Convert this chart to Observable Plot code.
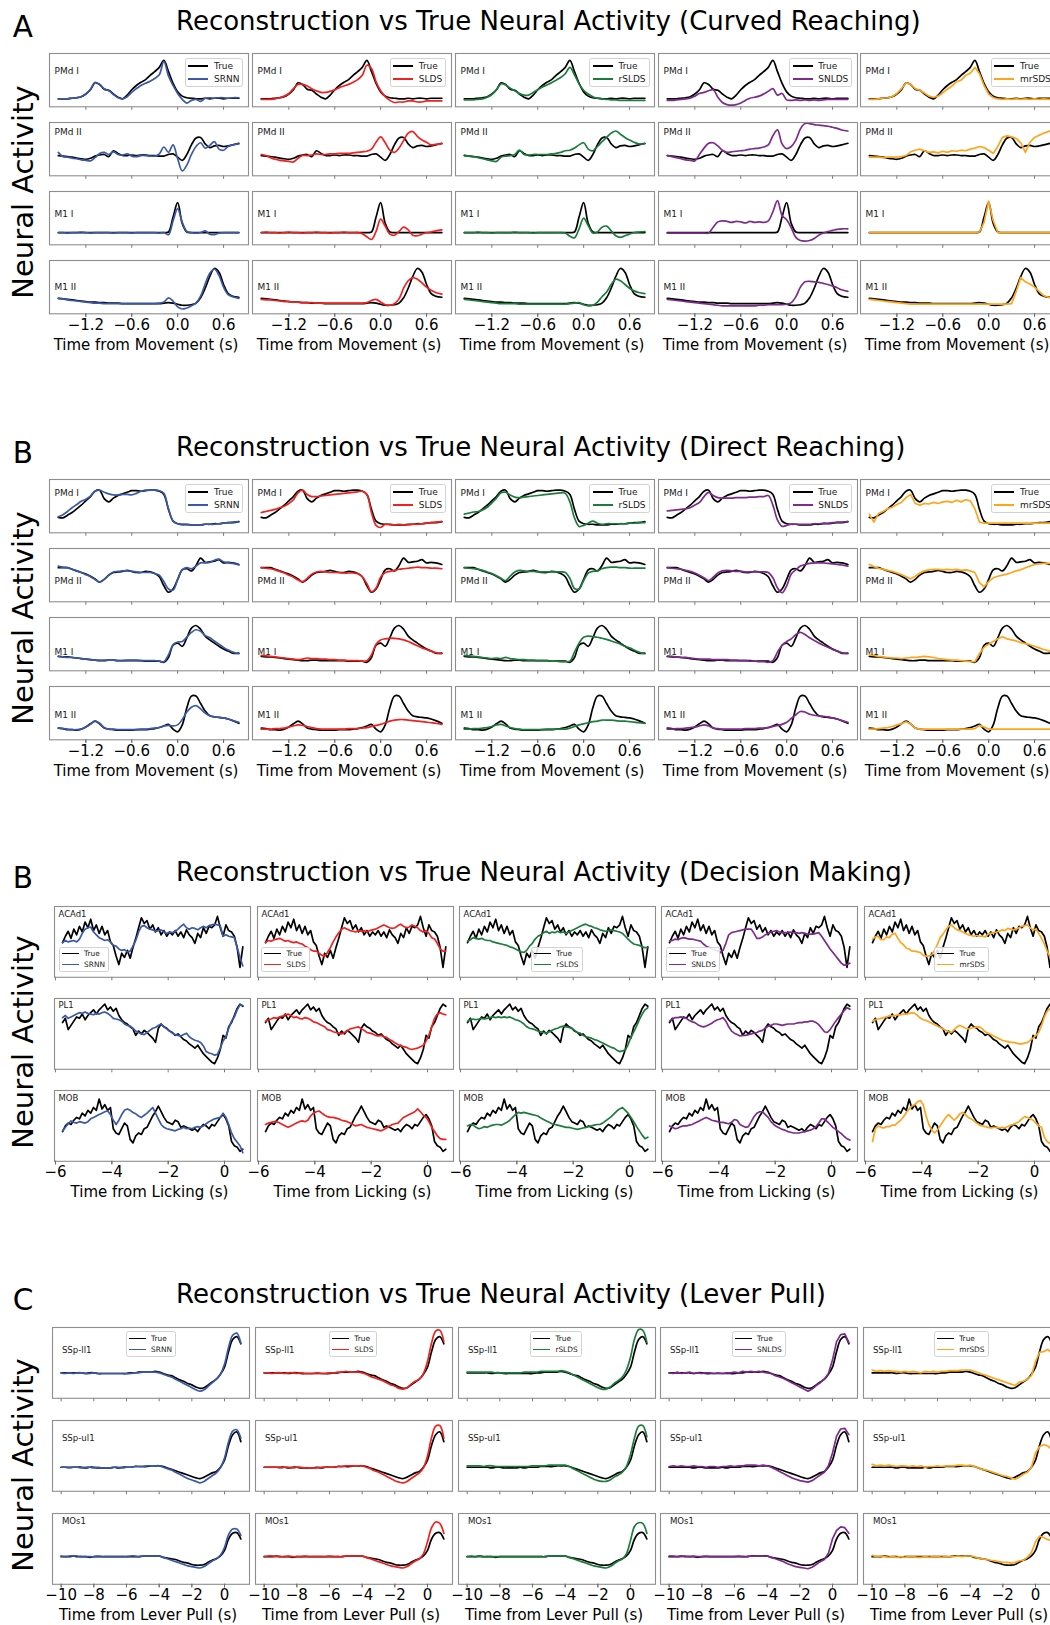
<!DOCTYPE html>
<html>
<head>
<meta charset="utf-8">
<script src="https://cdn.jsdelivr.net/npm/d3@7"></script>
<script src="https://cdn.jsdelivr.net/npm/@observablehq/plot@0.6"></script>
<style>
  html, body { margin: 0; padding: 0; background: #fff; overflow: hidden; }
  #fig { position: relative; width: 1050px; height: 1625px; overflow: hidden; font-family: "DejaVu Sans", sans-serif; background: #fff; }
  .legend { position: absolute; width: max-content; border: 1px solid #d2d2d2; border-radius: 2.5px; background: rgba(255,255,255,0.85); font-family: "DejaVu Sans", sans-serif; color: #1a1a1a; box-sizing: content-box; }
  .legend .row { display: flex; align-items: center; }
  .legend .sw { display: inline-block; height: 0; }
</style>
</head>
<body>
<div id="fig"></div>
<script>
// ---------------------------------------------------------------------------
// Models and colours
const models = ["SRNN", "SLDS", "rSLDS", "SNLDS", "mrSDS"];
const modelColors = ["#3b59a9", "#f0211f", "#1b7d3b", "#7e2b8d", "#ffa51c"];

// ---------------------------------------------------------------------------
// Time axes (seconds)
const reachTime = [-1.56,-1.50,-1.44,-1.38,-1.32,-1.26,-1.20,-1.14,-1.08,-1.02,-0.96,-0.90,-0.84,-0.78,-0.72,-0.66,-0.60,-0.54,-0.48,-0.42,-0.36,-0.30,-0.24,-0.18,-0.12,-0.06,0.00,0.06,0.12,0.18,0.24,0.30,0.36,0.42,0.48,0.54,0.60,0.66,0.72,0.80];
const lickTime = [-5.75,-5.65,-5.55,-5.45,-5.35,-5.25,-5.15,-5.05,-4.95,-4.85,-4.75,-4.65,-4.55,-4.45,-4.35,-4.25,-4.15,-4.05,-3.95,-3.85,-3.75,-3.65,-3.55,-3.45,-3.35,-3.25,-3.15,-3.05,-2.95,-2.85,-2.75,-2.65,-2.55,-2.45,-2.35,-2.25,-2.15,-2.05,-1.95,-1.85,-1.75,-1.65,-1.55,-1.45,-1.35,-1.25,-1.15,-1.05,-0.95,-0.85,-0.75,-0.65,-0.55,-0.45,-0.35,-0.25,-0.15,-0.05,0.05,0.15,0.25,0.35,0.45,0.55,0.65];
const leverTime = [-10,-9.75,-9.5,-9.25,-9,-8.75,-8.5,-8.25,-8,-7.75,-7.5,-7.25,-7,-6.75,-6.5,-6.25,-6,-5.75,-5.5,-5.25,-5,-4.75,-4.5,-4.25,-4,-3.75,-3.5,-3.25,-3,-2.75,-2.5,-2.25,-2,-1.75,-1.5,-1.25,-1,-0.75,-0.5,-0.25,0,0.25,0.5,0.75,1];

// Tick values and their labels
const reachTicks = [-1.2, -0.6, 0, 0.6];
const reachTickLabels = ["\u22121.2", "\u22120.6", "0.0", "0.6"];
const lickTicks = [-6, -4, -2, 0];
const lickTickLabels = ["\u22126", "\u22124", "\u22122", "0"];
const leverTicks = [-10, -8, -6, -4, -2, 0];
const leverTickLabels = ["\u221210", "\u22128", "\u22126", "\u22124", "\u22122", "0"];

// ---------------------------------------------------------------------------
// Curved reaching (normalised activity, one row per region)
const curvedRegions = ["PMd I", "PMd II", "M1 I", "M1 II"];
const curvedTrue = [
  [15,15,15,16,17,19,24,32,45,42, 33,31,24,18,15,22,32,40,46,51, 59,66,74,87,66,44,28,20,17,16, 15,15,16,15,16,16,15,16,16,16],
  [38,37,36,35,33,32,31,33,37,39, 40,36,47,42,38,38,39,38,39,39, 38,38,37,37,40,41,35,29,40,58, 71,72,60,53,56,57,55,56,58,61],
  [23,23,23,23,23,23,23,23,23,23, 23,23,23,23,23,23,23,23,23,23, 23,23,23,23,24,52,79,40,24,23, 23,23,23,23,23,23,23,23,23,23],
  [29,28,27,26,25,24,23,22,22,21, 21,20,20,20,19,19,19,19,19,19, 19,19,19,20,21,20,18,16,16,17, 20,30,48,70,85,78,55,38,33,31]
];
const curvedSRNN = [
  [15,15,15,16,17,19,24,33,46,42, 34,30,23,17,15,19,27,34,40,44, 48,53,60,85,58,40,25,14,7,12, 14,10,16,17,16,17,17,16,17,17],
  [44,36,35,33,32,30,29,28,34,42, 44,40,45,40,39,41,37,36,38,38, 37,37,41,54,44,58,32,9,20,40, 55,62,52,57,64,50,48,55,58,60],
  [23,23,22,23,23,24,23,22,23,23, 23,23,22,23,23,23,22,23,23,23, 23,23,22,23,19,45,68,42,25,23, 22,23,26,20,19,22,23,23,23,23],
  [29,28,26,25,24,23,22,21,20,20, 19,19,19,19,19,19,19,19,19,19, 19,19,20,22,30,24,13,9,11,15, 20,33,56,76,84,72,50,36,32,29]
];
const curvedSLDS = [
  [14,14,14,15,17,20,25,34,42,42, 39,34,30,27,27,29,32,36,39,42, 46,51,59,78,72,47,30,19,12,8, 9,9,11,11,9,9,11,11,11,11],
  [40,38,34,31,29,28,27,26,33,38, 38,39,41,40,40,41,41,42,42,42, 43,44,45,46,50,63,73,62,48,44, 52,66,80,83,74,67,63,58,59,60],
  [23,24,23,23,22,23,24,23,23,22, 23,23,24,23,23,22,23,23,24,23, 23,23,21,15,10,25,48,35,20,18, 25,33,28,18,17,20,23,24,26,28],
  [27,26,26,25,24,23,23,22,22,21, 21,21,20,20,20,20,20,20,20,20, 20,20,20,21,25,27,22,17,16,19, 28,48,62,68,65,58,50,44,40,37]
];
const curvedRSLDS = [
  [13,13,13,14,15,18,23,32,43,41, 35,30,25,22,22,27,32,37,41,45, 50,55,62,74,60,43,31,24,19,16, 15,14,13,13,12,12,12,12,12,12],
  [39,37,36,34,32,30,28,27,35,37, 38,40,48,40,39,40,40,40,40,41, 42,44,47,48,52,58,62,50,47,55, 64,72,80,84,78,72,67,63,60,60],
  [23,23,23,24,23,23,22,23,23,23, 23,24,23,23,23,22,23,23,23,23, 23,23,22,16,13,30,50,36,22,24, 33,35,26,17,14,17,20,23,24,25],
  [27,26,25,24,23,22,21,20,19,19, 19,19,18,18,18,18,18,18,18,18, 18,18,18,19,20,21,17,15,16,22, 32,41,55,65,62,55,48,43,40,38]
];
const curvedSNLDS = [
  [12,12,13,14,15,16,20,25,27,30, 32,18,8,4,3,4,7,12,16,18, 20,24,29,34,22,25,13,12,13,12, 13,12,13,12,13,14,14,14,14,14],
  [38,36,34,32,30,29,28,40,52,61, 62,56,48,44,45,46,47,48,50,51, 52,54,58,75,86,60,51,55,67,88, 98,98,96,95,94,93,91,89,86,84],
  [22,22,22,22,22,22,22,22,22,22, 33,43,45,44,42,44,43,41,44,42, 43,42,45,62,83,55,47,32,14,8, 7,8,12,18,22,25,27,29,30,30],
  [27,26,25,24,23,22,21,20,19,18, 17,16,15,15,15,15,15,15,15,15, 16,16,17,17,17,17,18,21,32,50, 60,61,60,59,57,55,52,49,45,42]
];
const curvedMrSDS = [
  [14,14,15,16,17,19,25,34,45,42, 34,31,26,20,18,20,26,33,39,47, 50,59,63,74,62,40,24,17,15,14, 15,14,15,14,15,14,15,14,15,14],
  [35,35,35,34,35,35,35,36,38,45, 48,50,47,44,45,43,46,44,47,46, 48,47,50,52,55,53,48,42,55,72, 75,73,70,62,44,63,72,76,80,84],
  [23,23,23,23,23,23,23,23,23,23, 23,23,23,23,23,23,23,23,23,23, 23,23,23,23,24,42,82,45,23,23, 23,23,23,23,23,23,23,23,23,23],
  [27,26,25,24,23,22,21,20,19,18, 18,18,18,18,18,18,18,18,18,18, 18,18,18,18,18,18,18,18,18,18, 18,19,42,68,60,56,50,42,34,30]
];

// ---------------------------------------------------------------------------
// Direct reaching
const directRegions = ["PMd I", "PMd II", "M1 I", "M1 II"];
const directTrue = [
  [29,28,33,38,45,52,60,68,78,80, 64,58,65,70,73,76,79,79,78,79, 80,80,78,72,44,22,17,16,16,15, 15,15,16,16,17,17,18,19,19,21],
  [64,64,64,61,58,55,52,48,43,37, 42,50,55,56,57,59,57,55,55,57, 56,53,47,30,18,24,42,60,62,58, 68,82,74,75,76,79,73,74,73,70],
  [27,26,26,25,24,23,22,21,20,19, 19,20,20,19,19,19,19,19,19,18, 18,18,18,16,25,48,52,46,62,80, 85,78,65,58,52,46,41,37,33,33],
  [22,21,19,19,18,20,24,30,35,30, 22,20,19,18,18,18,18,19,19,19, 20,21,23,26,29,20,15,28,60,82, 82,68,54,45,43,42,41,39,36,31]
];
const directSRNN = [
  [30,34,40,47,53,59,63,69,78,80, 76,73,71,71,72,72,71,74,78,80, 80,80,79,74,45,22,17,15,15,15, 15,15,16,16,16,17,18,19,20,21],
  [67,65,64,61,58,55,51,47,42,37, 42,50,56,57,58,58,57,56,55,55, 55,53,50,38,24,22,42,60,64,62, 67,73,73,74,78,80,75,73,72,69],
  [27,26,25,25,24,23,22,21,20,20, 20,20,20,19,19,20,20,20,19,19, 19,19,18,17,30,49,54,55,63,72, 77,74,66,62,56,50,44,39,35,32],
  [22,21,20,19,19,20,24,29,35,31, 23,20,20,19,19,19,19,19,20,20, 21,22,23,26,27,26,28,38,52,61, 64,58,50,45,43,42,41,39,36,33]
];
const directSLDS = [
  [38,40,42,44,47,50,55,62,75,80, 72,68,68,69,70,71,72,73,74,75, 76,77,78,72,38,14,10,16,15,15, 16,15,15,16,16,17,18,19,20,21],
  [64,63,62,60,57,54,50,46,41,38, 44,52,56,57,56,55,55,55,54,54, 54,53,47,34,19,26,46,55,57,59, 61,62,63,64,65,64,64,63,63,62],
  [29,28,27,26,25,24,23,22,21,22, 24,23,23,22,22,21,21,20,20,19, 19,19,18,19,30,50,58,60,61,61, 60,58,55,51,47,43,40,37,34,32],
  [20,20,20,21,21,22,24,26,28,27, 25,23,21,20,20,20,20,20,20,21, 21,21,22,23,25,27,29,32,35,37, 38,38,37,36,35,34,33,32,31,29]
];
const directRSLDS = [
  [35,37,39,40,43,48,56,65,75,76, 71,67,66,67,68,69,70,71,72,73, 74,75,74,58,28,12,14,18,22,18, 16,17,17,17,17,17,18,18,19,19],
  [64,63,62,61,59,56,53,49,44,40, 48,56,59,58,57,57,56,56,56,56, 56,56,55,44,25,24,40,54,57,58, 62,64,65,65,64,64,63,63,63,63],
  [29,28,27,26,25,24,23,24,23,25, 23,22,21,21,20,20,19,19,19,18, 18,17,17,18,35,52,63,65,64,63, 61,59,56,53,50,46,43,39,35,32],
  [20,20,21,21,22,23,25,28,29,26, 23,21,20,19,19,19,19,19,20,20, 20,20,20,22,25,28,30,32,34,35, 37,37,37,36,35,35,34,33,32,31]
];
const directSNLDS = [
  [41,42,43,44,45,47,52,57,68,76, 70,66,65,65,65,66,66,66,67,67, 68,68,70,52,24,12,14,16,16,16, 16,16,17,17,18,18,19,20,20,21],
  [64,63,62,61,59,57,54,50,45,40, 46,54,58,59,58,57,57,56,56,56, 56,56,55,45,26,17,30,52,60,67, 70,72,73,73,73,72,71,70,69,67],
  [27,27,26,25,25,24,23,22,22,22, 21,21,21,21,20,20,19,19,18,18, 17,17,16,19,35,48,55,60,68,72, 68,62,57,52,48,44,40,37,34,32],
  [20,20,21,21,22,23,24,26,28,26, 22,21,20,20,20,20,20,21,21,21, 22,22,23,25,27,29,33,40,47,53, 52,48,46,45,44,43,41,39,36,33]
];
const directMrSDS = [
  [35,20,36,40,45,48,53,57,66,72, 55,52,55,54,57,55,58,59,57,61, 58,62,60,45,20,18,18,18,18,18, 18,18,18,18,18,18,18,18,18,18],
  [70,66,63,61,59,57,54,51,47,43, 48,54,58,60,61,61,60,61,60,61, 59,60,58,55,36,28,38,45,48,50, 52,55,58,60,64,67,70,71,72,72],
  [30,29,27,26,25,24,24,23,24,25, 25,26,27,26,25,23,22,21,20,20, 19,18,17,17,32,44,50,55,60,64, 60,58,56,53,51,49,46,43,40,37],
  [20,20,21,22,23,25,28,30,34,30, 22,20,20,20,20,20,20,20,20,20, 20,20,20,21,27,24,20,20,20,20, 20,20,20,20,20,20,20,20,20,20]
];

// ---------------------------------------------------------------------------
// Decision making (time from licking)
const lickRegions = ["ACAd1", "PL1", "MOB"];
const lickTrue = [
  [49,58,65,55,68,60,72,64,78,70, 82,66,74,62,72,60,66,50,45,30, 18,34,28,38,27,42,55,70,84,76, 80,68,74,64,70,60,66,58,64,60, 66,58,64,56,67,60,56,48,62,56, 70,62,72,70,74,86,70,58,74,66, 64,58,42,14,43],
  [66,72,56,62,68,74,72,78,70,76, 80,84,78,84,88,92,84,88,82,86, 76,70,66,64,60,57,48,54,50,55, 52,48,44,38,58,64,60,58,54,52, 48,50,46,42,40,36,33,30,34,28, 22,18,14,10,8,16,28,48,44,60, 66,76,86,92,89],
  [42,50,54,52,58,62,60,68,64,72, 68,76,72,88,74,80,72,76,46,40, 38,46,54,50,31,26,36,40,38,46, 48,56,64,70,78,70,62,56,54,52, 58,56,48,50,48,46,44,46,42,48, 52,50,46,52,50,56,62,66,60,50, 28,22,20,14,17]
];
const lickSRNN = [
  [49,52,50,51,52,50,54,62,68,70, 71,64,60,56,54,52,53,50,45,44, 40,38,39,36,37,44,52,64,72,73, 70,68,67,65,66,67,64,62,64,63, 65,68,72,75,70,68,70,69,67,70, 72,70,73,74,75,74,73,58,60,58, 57,56,42,28,16],
  [73,76,72,74,76,78,80,79,81,79, 78,77,79,78,80,81,79,76,72,71, 70,68,64,62,61,58,54,52,50,49, 52,55,58,59,62,64,60,57,54,51, 49,48,47,49,51,46,43,41,40,38, 33,25,23,22,20,21,30,40,46,58, 68,74,84,91,90],
  [43,48,53,57,55,54,56,55,54,56, 60,62,64,66,68,70,71,66,58,52, 58,66,72,74,72,69,67,64,62,65, 68,72,76,68,60,52,48,46,45,44, 43,45,46,48,46,47,46,48,49,48, 50,53,56,58,60,61,62,68,62,52, 40,32,27,22,12]
];
const lickSLDS = [
  [49,52,51,53,54,55,53,51,52,50, 49,50,48,47,44,42,39,37,37,34, 31,30,35,42,50,57,63,68,70,68, 66,65,64,66,65,66,64,66,67,68, 70,72,74,72,70,69,70,73,75,72, 70,71,74,72,70,66,64,66,62,56, 54,48,40,37,37],
  [68,70,71,73,72,74,75,77,78,76, 73,74,72,71,73,72,70,67,66,64, 62,60,56,55,53,52,51,50,52,54, 57,58,59,60,57,55,52,51,50,48, 47,48,46,45,42,40,37,35,33,32, 31,29,28,29,30,32,34,40,48,60, 72,78,80,78,77],
  [52,54,55,56,56,54,52,50,48,50, 52,54,56,57,56,58,64,68,70,71, 68,65,63,62,62,61,60,58,57,56, 54,52,50,51,52,50,48,47,46,45, 44,43,45,47,50,52,53,54,58,62, 64,66,68,70,74,70,65,62,56,48, 42,36,32,31,31]
];
const lickRSLDS = [
  [51,53,56,55,54,55,53,52,52,50, 49,48,47,46,45,43,42,40,38,36, 35,38,44,48,54,58,60,63,65,62, 64,63,65,63,64,62,64,66,68,70, 72,74,75,73,72,70,69,67,66,65, 66,67,66,65,64,62,58,54,50,47, 46,45,43,42,42],
  [68,70,71,70,71,72,71,72,73,74, 73,74,73,74,73,74,72,70,69,67, 64,60,58,57,56,54,53,52,51,53, 55,57,58,60,61,60,59,58,55,52, 51,48,46,45,44,42,41,39,37,35, 33,31,30,27,25,26,27,35,45,53, 61,70,78,84,87],
  [50,52,51,48,46,47,49,48,50,51, 52,52,51,53,55,58,62,66,69,68, 69,68,67,66,65,64,61,59,57,55, 53,52,51,50,49,48,48,47,46,45, 46,47,48,49,50,51,52,52,54,57, 60,63,67,71,74,76,72,68,62,56, 49,43,37,32,34]
];
const lickSNLDS = [
  [51,52,54,53,55,56,55,54,54,53, 52,51,47,44,42,40,39,37,35,38, 48,60,63,64,65,66,67,68,68,68, 62,55,55,57,60,62,64,65,66,64, 63,63,63,64,63,63,62,63,62,61, 61,61,62,63,58,52,46,40,35,30, 25,20,17,18,20],
  [68,71,73,73,74,73,72,69,67,66, 63,61,60,61,63,65,68,70,71,73, 68,60,54,51,49,47,48,48,49,50, 51,52,54,55,58,61,62,64,64,63, 62,63,64,64,64,65,66,66,67,67, 68,68,66,63,58,53,52,56,62,68, 73,78,83,87,85],
  [50,48,46,47,49,50,50,51,52,54, 56,58,60,62,60,58,57,56,55,55, 54,53,55,59,58,52,50,48,49,56, 63,68,70,70,66,62,56,52,49,47, 45,44,42,41,40,40,40,41,42,43, 44,46,49,54,60,60,56,52,48,45, 42,39,35,32,30]
];
const lickMrSDS = [
  [54,57,58,53,53,57,56,61,62,55, 49,46,41,40,37,37,36,35,31,30, 30,32,38,46,56,61,67,72,74,70, 67,66,64,62,60,59,58,59,58,58, 57,61,62,63,64,65,67,66,69,68, 67,68,70,72,73,74,70,67,68,62, 55,47,37,29,26],
  [68,70,71,72,73,74,76,75,76,77, 77,78,78,79,80,79,76,72,70,69, 67,65,63,61,59,57,55,53,52,56, 60,62,60,58,57,58,59,60,60,57, 53,51,49,47,45,43,41,40,39,38, 38,37,36,36,37,38,41,44,48,52, 62,74,82,86,86],
  [28,46,50,48,47,49,49,51,51,55, 58,63,69,74,78,80,84,86,80,64, 52,44,40,44,50,56,62,66,62,58, 62,67,69,66,62,60,57,54,51,50, 49,48,47,48,48,47,48,47,49,51, 52,54,56,60,63,62,60,58,54,50, 48,34,28,25,23]
];

// ---------------------------------------------------------------------------
// Lever pull
const leverRegions = ["SSp-ll1", "SSp-ul1", "MOs1"];
const leverTrue = [
  [36,36,36,36,36,36,35,36,36,35, 35,35,35,35,35,35,35,36,36,37, 37,37,37,38,37,35,33,32,29,26, 24,21,19,16,14,15,19,23,27,34, 44,66,83,87,77],
  [34,34,34,34,34,34,33,34,34,33, 33,33,33,34,33,34,34,34,35,35, 35,35,36,36,36,35,33,31,29,27, 25,23,21,19,18,20,23,26,28,34, 44,65,80,84,70],
  [39,39,39,40,39,39,39,38,39,39, 39,39,39,39,39,39,39,39,39,39, 40,40,40,40,40,38,37,36,35,33, 31,30,28,27,27,28,31,34,36,40, 48,64,72,73,64]
];
const leverSRNN = [
  [36,35,36,35,36,36,35,35,36,35, 35,35,35,35,35,35,35,35,36,36, 37,37,37,37,36,34,32,30,27,24, 21,18,15,12,10,12,17,22,27,34, 48,72,89,92,78],
  [34,34,33,34,34,33,34,34,33,34, 33,33,33,34,34,33,34,34,35,35, 35,36,36,36,36,34,32,30,27,24, 21,18,16,14,12,14,18,22,26,33, 47,70,85,87,75],
  [40,39,40,40,40,39,39,39,39,40, 39,39,39,39,39,39,39,40,40,39, 40,40,40,40,40,38,36,34,32,30, 28,26,25,24,23,25,29,33,36,41, 52,70,78,78,69]
];
const leverSLDS = [
  [36,36,35,36,36,35,36,36,35,36, 35,35,35,36,35,35,36,36,37,37, 38,37,37,37,36,34,31,29,27,25, 22,19,17,14,13,15,20,24,27,35, 52,78,95,96,80],
  [34,34,34,34,33,34,34,33,34,34, 33,33,33,33,34,34,34,34,35,35, 36,36,36,36,36,34,32,29,27,24, 21,18,15,13,12,14,18,22,26,33, 50,76,92,93,75],
  [39,40,40,39,39,39,40,39,39,39, 40,39,39,39,39,39,40,39,39,39, 40,40,40,40,40,38,36,34,32,30, 28,26,25,24,23,25,29,33,36,43, 60,80,88,86,72]
];
const leverRSLDS = [
  [37,37,37,37,37,37,37,36,36,36, 36,36,36,36,37,37,37,37,38,38, 38,38,38,39,38,36,33,30,27,24, 21,18,15,13,13,16,21,25,30,40, 58,84,97,96,79],
  [36,36,36,36,35,36,36,35,35,35, 35,35,35,35,35,35,36,36,36,36, 37,37,37,37,37,35,32,29,26,23, 20,17,15,14,14,16,20,23,27,35, 52,76,92,93,77],
  [39,40,39,39,39,39,39,39,39,39, 39,39,39,39,39,39,39,39,39,39, 40,40,40,40,40,38,36,34,32,30, 28,26,25,24,23,25,29,33,36,43, 62,82,87,86,72]
];
const leverSNLDS = [
  [36,35,37,35,36,37,35,36,35,36, 36,35,36,35,36,36,37,36,38,37, 38,37,38,37,36,35,32,30,28,25, 22,19,16,13,10,13,18,22,27,35, 54,80,90,91,79],
  [35,36,35,36,35,35,36,35,35,34, 35,35,34,35,35,36,35,36,36,37, 37,37,36,37,36,34,31,28,25,22, 19,17,15,14,13,15,19,23,27,36, 54,78,88,89,80],
  [40,40,39,39,40,39,40,39,39,40, 39,39,39,39,39,39,39,40,39,39, 40,40,40,40,40,38,36,34,32,29, 27,25,24,23,22,24,28,32,35,44, 64,76,81,80,72]
];
const leverMrSDS = [
  [40,38,39,38,39,38,38,37,38,37, 38,37,36,38,37,38,37,38,38,39, 39,39,40,40,40,38,36,34,32,30, 28,26,24,22,20,18,23,24,27,32, 52,65,66,69,64],
  [38,36,37,36,37,36,35,36,36,35, 36,35,36,34,35,35,36,35,36,36, 36,37,37,36,37,35,33,31,30,28, 26,24,22,21,19,17,20,24,27,34, 54,63,66,64,59],
  [41,39,40,39,38,39,38,39,38,39, 39,38,38,39,38,39,39,38,39,39, 39,40,39,40,40,39,37,36,35,34, 33,32,31,31,30,31,33,34,38,45, 60,68,66,63,62]
];

// ---------------------------------------------------------------------------
// Panel configuration (layout in page pixels)
const panels = [
  {
    letter: "A", title: "Reconstruction vs True Neural Activity (Curved Reaching)",
    xlabel: "Time from Movement (s)", time: reachTime, domain: [-1.675, 0.926],
    ticks: reachTicks, tickLabels: reachTickLabels,
    regions: curvedRegions, truth: curvedTrue,
    models: [curvedSRNN, curvedSLDS, curvedRSLDS, curvedSNLDS, curvedMrSDS],
    smooth: [true, true, true, true, false],
    col0: 49.3, colStep: 202.75, cellW: 199, row0: 53.3, rowStep: 68.9, cellH: 53.3,
    titleY: 29.5, letterY: 36.8, ylabelY: 192,
    labelDx: 5, labelDy: [18, 9.4, 22.3, 26.7], labelSize: 9,
    legendAnchor: ["top-right", "top-right", "top-right", "top-right", "top-right"],
    legend: {font: 9, lineLen: 20, lineW: 2, rowH: 12.6, padL: 2.7, gap: 5.5, padR: 3, padT: 1, padB: 1.4, inset: 4.5}
  },
  {
    letter: "B", title: "Reconstruction vs True Neural Activity (Direct Reaching)",
    xlabel: "Time from Movement (s)", time: reachTime, domain: [-1.675, 0.926],
    ticks: reachTicks, tickLabels: reachTickLabels,
    regions: directRegions, truth: directTrue,
    models: [directSRNN, directSLDS, directRSLDS, directSNLDS, directMrSDS],
    smooth: [true, true, true, true, false],
    col0: 49.3, colStep: 202.75, cellW: 199, row0: 479.3, rowStep: 68.9, cellH: 53.3,
    titleY: 455.5, letterY: 462.8, ylabelY: 618,
    labelDx: 5, labelDy: [14, 32.6, 34.6, 29], labelSize: 9,
    legendAnchor: ["top-right", "top-right", "top-right", "top-right", "top-right"],
    legend: {font: 9, lineLen: 20, lineW: 2, rowH: 12.6, padL: 2.7, gap: 5.5, padR: 3, padT: 1, padB: 1.4, inset: 4.5}
  },
  {
    letter: "B", title: "Reconstruction vs True Neural Activity (Decision Making)",
    xlabel: "Time from Licking (s)", time: lickTime, domain: [-6.036, 0.923],
    ticks: lickTicks, tickLabels: lickTickLabels,
    regions: lickRegions, truth: lickTrue,
    models: [lickSRNN, lickSLDS, lickRSLDS, lickSNLDS, lickMrSDS],
    smooth: [false, false, false, false, false],
    col0: 54.3, colStep: 202.35, cellW: 196, row0: 905.7, rowStep: 92, cellH: 70.8,
    titleY: 880.5, letterY: 887.5, ylabelY: 1042,
    labelDx: 4, labelDy: [7.6, 6.7, 8], labelSize: 8.5,
    legendAnchor: ["bottom-left", "bottom-left", "bottom", "bottom-left", "bottom"],
    legend: {font: 7.4, lineLen: 17.5, lineW: 1.7, rowH: 10.8, padL: 1.8, gap: 5, padR: 3, padT: 0.6, padB: 0.8, inset: 4.5}
  },
  {
    letter: "C", title: "Reconstruction vs True Neural Activity (Lever Pull)",
    xlabel: "Time from Lever Pull (s)", time: leverTime, domain: [-10.53, 1.53],
    ticks: leverTicks, tickLabels: leverTickLabels,
    regions: leverRegions, truth: leverTrue,
    models: [leverSRNN, leverSLDS, leverRSLDS, leverSNLDS, leverMrSDS],
    smooth: [true, true, true, false, false],
    col0: 52.3, colStep: 202.65, cellW: 197, row0: 1327.3, rowStep: 92.85, cellH: 70.8,
    titleY: 1302.8, letterY: 1309.8, ylabelY: 1465,
    labelDx: 9.4, labelDy: [23, 18, 8], labelSize: 8.6,
    legendAnchor: ["top", "top", "top", "top", "top"],
    legend: {font: 7.4, lineLen: 17.5, lineW: 1.7, rowH: 11.2, padL: 1.8, gap: 5, padR: 3, padT: 0.8, padB: 0.8, inset: 3.7}
  }
];

// ---------------------------------------------------------------------------
const fig = document.getElementById("fig");
const FONT = "DejaVu Sans";
const AXIS_FONT = 15;

function drawCell(P, ri, ci) {
  const left = P.col0 + ci * P.colStep;
  const top = P.row0 + ri * P.rowStep;
  const w = P.cellW, h = P.cellH;
  const bottomRow = ri === P.regions.length - 1;
  const mL = 20, mR = 20, mT = 2, mB = bottomRow ? 48 : 8;
  const modelCurve = P.smooth[ci] ? "catmull-rom" : "linear";
  const trueCurve = P.smooth[0] ? "catmull-rom" : "linear";

  const marks = [
    // small outward ticks under every panel
    Plot.axisX({ticks: P.ticks, tickSize: 3.5, tickFormat: () => "", stroke: "#6a6a6a", strokeWidth: 0.9, label: null}),
    Plot.lineY(P.truth[ri], {x: (d, i) => P.time[i], y: d => d, stroke: "#000", strokeWidth: 1.7, curve: trueCurve}),
    Plot.lineY(P.models[ci][ri], {x: (d, i) => P.time[i], y: d => d, stroke: modelColors[ci], strokeWidth: 1.7, curve: modelCurve}),
    Plot.frame({stroke: "#8e8e8e", strokeWidth: 1.1}),
    Plot.text([P.regions[ri]], {
      frameAnchor: "top-left", lineAnchor: "middle", dx: P.labelDx, dy: P.labelDy[ri],
      text: d => d, fontSize: P.labelSize, textAnchor: "start", fill: "#1a1a1a"
    })
  ];
  if (bottomRow) {
    marks.push(Plot.axisX({
      ticks: P.ticks, tickSize: 3.5, tickPadding: 1.8, stroke: "#6a6a6a", fill: "#000",
      tickFormat: d => P.tickLabels[P.ticks.indexOf(d)], fontSize: AXIS_FONT, label: null
    }));
    marks.push(Plot.text([P.xlabel], {
      frameAnchor: "bottom", lineAnchor: "middle", dx: -3, dy: 31.2,
      text: d => d, fontSize: AXIS_FONT, fill: "#000"
    }));
  }

  const svg = Plot.plot({
    width: w + mL + mR, height: h + mT + mB,
    marginLeft: mL, marginRight: mR, marginTop: mT, marginBottom: mB,
    x: {domain: P.domain, axis: null},
    y: {domain: [0, 100], axis: null},
    style: {background: "transparent", overflow: "visible", fontFamily: FONT, color: "#000"},
    marks
  });
  svg.style.position = "absolute";
  svg.style.left = (left - mL) + "px";
  svg.style.top = (top - mT) + "px";
  svg.style.maxWidth = "none";
  fig.appendChild(svg);
  return {left, top, w, h};
}

function drawLegend(P, ci, box) {
  const L = P.legend;
  const div = document.createElement("div");
  div.className = "legend";
  div.style.fontSize = L.font + "px";
  div.style.padding = `${L.padT}px ${L.padR}px ${L.padB}px ${L.padL}px`;
  for (const [name, color] of [["True", "#000"], [models[ci], modelColors[ci]]]) {
    const row = document.createElement("div");
    row.className = "row";
    row.style.height = L.rowH + "px";
    const sw = document.createElement("span");
    sw.className = "sw";
    sw.style.width = L.lineLen + "px";
    sw.style.borderTop = `${L.lineW}px solid ${color}`;
    sw.style.marginRight = L.gap + "px";
    const tx = document.createElement("span");
    tx.textContent = name;
    row.append(sw, tx);
    div.append(row);
  }
  fig.appendChild(div);
  const bw = div.offsetWidth, bh = div.offsetHeight;
  const a = P.legendAnchor[ci];
  let x, y;
  if (a === "top-right") { x = box.left + box.w - L.inset - bw; y = box.top + L.inset; }
  else if (a === "top") { x = box.left + (box.w - bw) / 2; y = box.top + L.inset; }
  else if (a === "bottom") { x = box.left + (box.w - bw) / 2; y = box.top + box.h - L.inset - bh; }
  else { x = box.left + L.inset; y = box.top + box.h - L.inset - bh; }
  div.style.left = x + "px";
  div.style.top = y + "px";
}

for (const P of panels) {
  for (let ci = 0; ci < models.length; ci++) {
    let firstBox = null;
    for (let ri = 0; ri < P.regions.length; ri++) {
      const b = drawCell(P, ri, ci);
      if (ri === 0) firstBox = b;
    }
    drawLegend(P, ci, firstBox);
  }
}

// Titles, panel letters and shared y labels
const overlay = d3.select(fig).append("svg")
  .attr("width", 1050).attr("height", 1625)
  .style("position", "absolute").style("left", "0px").style("top", "0px")
  .style("pointer-events", "none")
  .attr("font-family", FONT);

for (const P of panels) {
  overlay.append("text").attr("x", 176).attr("y", P.titleY)
    .attr("font-size", 26).attr("fill", "#000").text(P.title);
  overlay.append("text").attr("x", 12.7).attr("y", P.letterY)
    .attr("font-size", 29.5).attr("fill", "#000").text(P.letter);
  overlay.append("text")
    .attr("transform", `translate(33,${P.ylabelY}) rotate(-90)`)
    .attr("text-anchor", "middle").attr("font-size", 29).attr("fill", "#000")
    .text("Neural Activity");
}
</script>
</body>
</html>
